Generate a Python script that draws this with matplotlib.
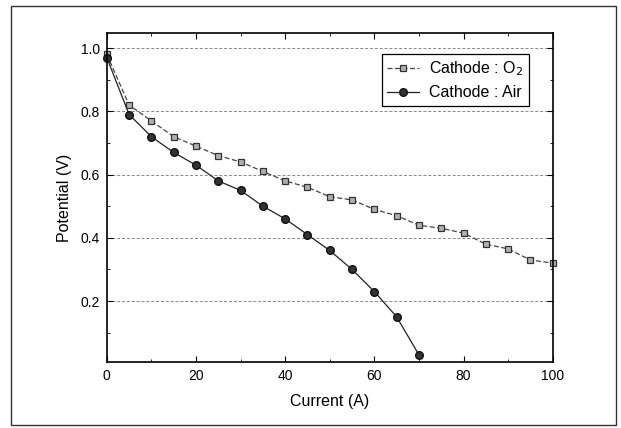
import matplotlib
matplotlib.use('Agg')
import matplotlib.pyplot as plt
from matplotlib.patches import Rectangle
from matplotlib.ticker import MultipleLocator

plt.rcParams['font.family'] = ['Liberation Sans', 'DejaVu Sans']

# data
current_o2 = [0, 5, 10, 15, 20, 25, 30, 35, 40, 45, 50, 55, 60, 65, 70, 75, 80, 85, 90, 95, 100]
potential_o2 = [0.98, 0.82, 0.77, 0.72, 0.69, 0.66, 0.64, 0.61, 0.58, 0.56, 0.53, 0.52, 0.49, 0.47,
                0.44, 0.43, 0.415, 0.38, 0.365, 0.33, 0.32]
current_air = [0, 5, 10, 15, 20, 25, 30, 35, 40, 45, 50, 55, 60, 65, 70]
potential_air = [0.97, 0.79, 0.72, 0.67, 0.63, 0.58, 0.55, 0.50, 0.46, 0.41, 0.36, 0.30, 0.23, 0.15, 0.03]
label_o2 = 'Cathode : O$_2$'
label_air = 'Cathode : Air'

fig = plt.figure(figsize=(6.21, 4.28), dpi=100)
ax = fig.add_axes([0.172, 0.154, 0.718, 0.769])

# outer frame around the whole picture
fig.patches.append(Rectangle((0.017, 0.007), 0.975, 0.979, transform=fig.transFigure,
                             fill=False, edgecolor='#333333', linewidth=1.0))

for y in [0.2, 0.4, 0.6, 0.8, 1.0]:
    ax.axhline(y, color='#888888', linestyle=(0, (3, 2)), linewidth=0.7, zorder=0)

ax.plot(current_o2, potential_o2, color='#444444', linestyle=(0, (4, 2)), linewidth=0.9,
        marker='s', markersize=4.5, markerfacecolor='#b0b0b0', markeredgecolor='#333333',
        markeredgewidth=0.9, label=label_o2, clip_on=False)
ax.plot(current_air, potential_air, color='#222222', linestyle='-', linewidth=0.9,
        marker='o', markersize=5.5, markerfacecolor='#333333', markeredgecolor='#111111',
        label=label_air, clip_on=False)

ax.set_xlim(0, 100)
ax.set_ylim(0.007, 1.048)
ax.xaxis.set_major_locator(MultipleLocator(20))
ax.xaxis.set_minor_locator(MultipleLocator(10))
ax.yaxis.set_minor_locator(MultipleLocator(0.1))
ax.set_yticks([0.2, 0.4, 0.6, 0.8, 1.0])
ax.set_yticklabels(['0.2', '0.4', '0.6', '0.8', '1.0'])
ax.tick_params(which='both', direction='in', top=True, right=True, labelsize=10)
ax.tick_params(which='major', length=4, pad=5)
ax.tick_params(which='minor', length=2)
for s in ax.spines.values():
    s.set_linewidth(1.2)

ax.set_xlabel('Current (A)', fontsize=11.5, labelpad=8)
ax.set_ylabel('Potential (V)', fontsize=11.5, labelpad=6)

leg = ax.legend(loc='upper right', bbox_to_anchor=(0.946, 0.937), fontsize=11.5,
                fancybox=False, edgecolor='black', framealpha=1, handlelength=2.0,
                handletextpad=0.6, borderpad=0.35, labelspacing=0.45, borderaxespad=0)
leg.get_frame().set_linewidth(0.9)

fig.savefig('out.png', dpi=100)
